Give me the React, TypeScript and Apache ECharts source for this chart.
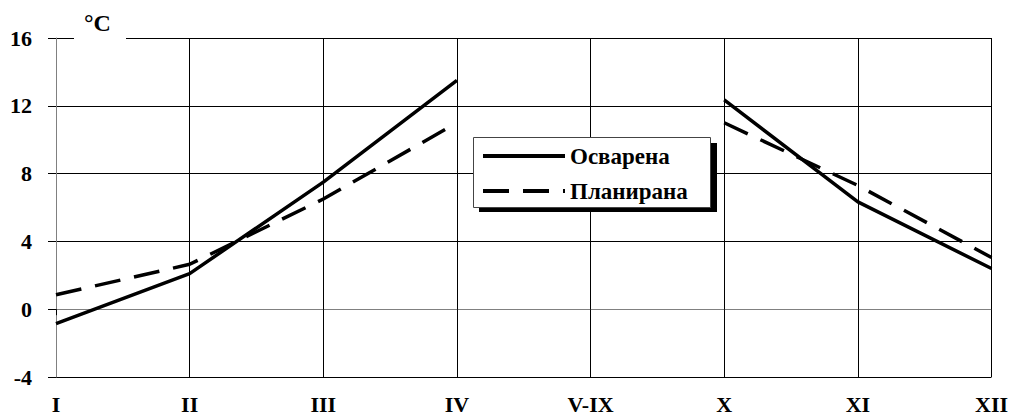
import React, { useEffect, useRef } from "react";
import * as echarts from "echarts";

const categories = ["I", "II", "III", "IV", "V-IX", "X", "XI", "XII"];
const actual = [-0.85, 2.1, 7.5, 13.5, null, 12.35, 6.33, 2.4];
const planned = [0.85, 2.65, 6.5, 11.0, null, 11.0, 7.3, 3.05];
const seriesNames = ["Осварена", "Планирана"];
const yTicks = { min: -4, max: 16, interval: 4 };
const unitLabel = "°C";

const FONT = "'Liberation Serif', 'Times New Roman', serif";

export default function App() {
  const ref = useRef<HTMLDivElement>(null);
  useEffect(() => {
    if (!ref.current) return;
    const chart = echarts.init(ref.current, undefined, { renderer: "svg" });
    chart.setOption({
      animation: false,
      backgroundColor: "#fff",
      textStyle: { fontFamily: FONT },
      grid: { left: 56, right: 19, top: 38, bottom: 39, containLabel: false },
      xAxis: {
        type: "category",
        data: categories,
        boundaryGap: false,
        axisLine: { lineStyle: { color: "#808080", width: 1 } },
        axisTick: { show: true, length: 6, lineStyle: { color: "#000" } },
        axisLabel: {
          color: "#000",
          fontFamily: FONT,
          fontWeight: "bold",
          fontSize: 22,
          margin: 16,
          interval: 0,
        },
        splitLine: { show: true, lineStyle: { color: "#000", width: 1 } },
      },
      yAxis: {
        type: "value",
        min: yTicks.min,
        max: yTicks.max,
        interval: yTicks.interval,
        axisLine: { show: true, lineStyle: { color: "#808080", width: 1 } },
        axisTick: { show: true, length: 8, lineStyle: { color: "#000" } },
        axisLabel: {
          color: "#000",
          fontFamily: FONT,
          fontWeight: "bold",
          fontSize: 22,
          margin: 24,
        },
        splitLine: { show: true, lineStyle: { color: "#000", width: 1 } },
      },
      legend: {
        orient: "vertical",
        left: 481,
        top: 143,
        padding: 0,
        itemWidth: 82,
        itemHeight: 14,
        itemGap: 9,
        z: 10,
        itemStyle: { color: "transparent", borderWidth: 0, opacity: 0 },
        lineStyle: { width: 4 },
        textStyle: {
          color: "#000",
          fontFamily: FONT,
          fontWeight: "bold",
          fontSize: 23,
          lineHeight: 26,
        },
        data: seriesNames,
      },
      graphic: [
        {
          type: "rect",
          z: 3,
          shape: { x: 479, y: 143, width: 238, height: 69 },
          style: { fill: "#000" },
        },
        {
          type: "rect",
          z: 4,
          shape: { x: 473.5, y: 137.5, width: 237, height: 70 },
          style: { fill: "#fff", stroke: "#444", lineWidth: 1 },
        },
        {
          type: "rect",
          z: 5,
          shape: { x: 74, y: 34, width: 52, height: 8 },
          style: { fill: "#fff" },
        },
        {
          type: "text",
          z: 6,
          x: 84,
          y: 11,
          style: {
            text: unitLabel,
            fill: "#000",
            fontFamily: FONT,
            fontWeight: "bold",
            fontSize: 24,
          },
        },
      ],
      series: [
        {
          name: seriesNames[0],
          type: "line",
          data: actual,
          symbol: "none",
          connectNulls: false,
          lineStyle: { color: "#000", width: 3.5, type: "solid" },
          itemStyle: { color: "#000" },
          z: 5,
        },
        {
          name: seriesNames[1],
          type: "line",
          data: planned,
          symbol: "none",
          connectNulls: false,
          lineStyle: { color: "#000", width: 3.5, type: [26, 14] },
          itemStyle: { color: "#000" },
          z: 5,
        },
      ],
    });
    return () => chart.dispose();
  }, []);
  return (
    <div
      ref={ref}
      style={{ position: "absolute", left: 0, top: 0, width: 1011, height: 416 }}
    />
  );
}
